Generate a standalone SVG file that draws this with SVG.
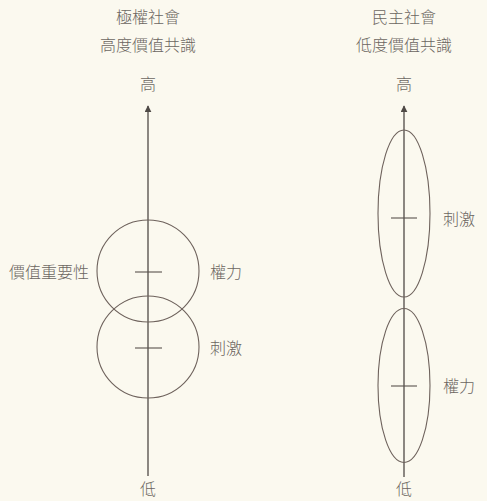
<svg xmlns="http://www.w3.org/2000/svg" width="487" height="501" viewBox="0 0 487 501">
<style>
text{font-family:"Noto Sans CJK TC","Noto Sans CJK SC",sans-serif;font-size:16px;fill:#6b6661;font-weight:300}
.c{text-anchor:middle}
.axis{stroke:#4f4a46;stroke-width:1.3;fill:none}
.shape{stroke:#6e625c;stroke-width:1.1;fill:none}
.tick{stroke:#5a534e;stroke-width:1.1}
</style>
<defs>
<marker id="arr" viewBox="0 0 10 10" refX="9" refY="5" markerWidth="7" markerHeight="7" markerUnits="userSpaceOnUse" orient="auto">
<path d="M0,0 L10,5 L0,10 z" fill="#4f4a46"/>
</marker>
</defs>
<rect width="487" height="501" fill="#fbf9ef"/>
<g id="titles">
<text class="c" x="148" y="23">極權社會</text>
<text class="c" x="148" y="51">高度價值共識</text>
<text class="c" x="148" y="90">高</text>
<text class="c" x="148" y="495">低</text>
<text class="c" x="404" y="23">民主社會</text>
<text class="c" x="404" y="51">低度價值共識</text>
<text class="c" x="404" y="90">高</text>
<text class="c" x="404" y="495">低</text>
</g>
<g id="connectors">
<line class="axis" x1="148" y1="476" x2="148" y2="106" marker-end="url(#arr)"/>
<line class="axis" x1="404" y1="477" x2="404" y2="106" marker-end="url(#arr)"/>
</g>
<g id="left-top-circle">
<circle class="shape" cx="148" cy="271" r="51"/>
<line class="tick" x1="135" y1="272" x2="162" y2="272"/>
<text x="89" y="278" text-anchor="end">價值重要性</text>
<text x="210" y="278">權力</text>
</g>
<g id="left-bottom-circle">
<circle class="shape" cx="148" cy="347" r="51"/>
<line class="tick" x1="135" y1="348" x2="162" y2="348"/>
<text x="210" y="354">刺激</text>
</g>
<g id="right-top-ellipse">
<ellipse class="shape" cx="404" cy="213.5" rx="26" ry="83.5"/>
<line class="tick" x1="391" y1="218" x2="417" y2="218"/>
<text x="443" y="225">刺激</text>
</g>
<g id="right-bottom-ellipse">
<ellipse class="shape" cx="404" cy="385.5" rx="26" ry="77"/>
<line class="tick" x1="391" y1="386" x2="417" y2="386"/>
<text x="443" y="392">權力</text>
</g>
</svg>
